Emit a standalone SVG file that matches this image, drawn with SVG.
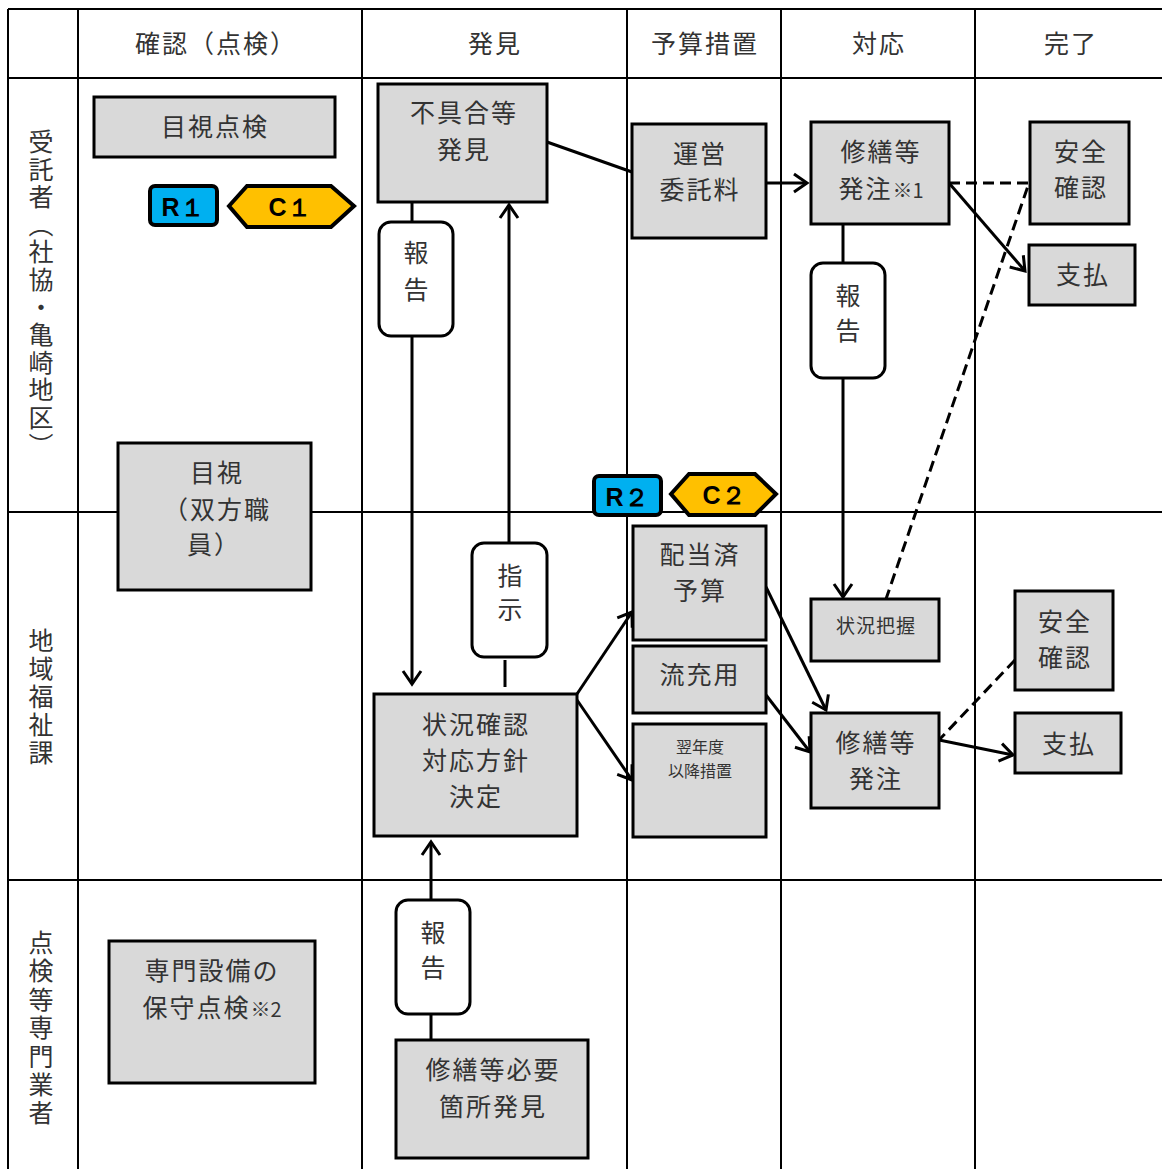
<svg xmlns="http://www.w3.org/2000/svg" width="1162" height="1169" viewBox="0 0 1162 1169">
<style>
.grid{stroke:#000;stroke-width:2;fill:none}
.box{fill:#d9d9d9;stroke:#000;stroke-width:3}
.pill{fill:#fff;stroke:#000;stroke-width:3}
.t{font-family:"Noto Sans CJK JP","Noto Sans CJK SC",sans-serif;font-size:25px;fill:#333;text-anchor:middle;letter-spacing:2px}
.s{font-size:19px}
.xs{font-size:16px}
.v{writing-mode:vertical-rl;text-anchor:start}
.c{stroke:#000;stroke-width:3;fill:none}
.d{stroke:#000;stroke-width:3;fill:none;stroke-dasharray:11 6}
.b{font-family:"Liberation Sans",Arial,sans-serif;font-weight:bold;font-size:25px;fill:#000;text-anchor:middle}
</style>
<defs>
<marker id="arr" markerWidth="20" markerHeight="24" refX="16" refY="12" orient="auto" markerUnits="userSpaceOnUse" viewBox="0 0 20 24">
<path d="M3,3 L16,12 L3,21" fill="none" stroke="#000" stroke-width="3"/>
</marker>
</defs>
<rect width="1162" height="1169" fill="#fff"/>
<g id="grid">
<line class="grid" x1="8" y1="9" x2="1162" y2="9"/>
<line class="grid" x1="8" y1="78" x2="1162" y2="78"/>
<line class="grid" x1="8" y1="512" x2="1162" y2="512"/>
<line class="grid" x1="8" y1="880" x2="1162" y2="880"/>
<line class="grid" x1="8" y1="9" x2="8" y2="1169"/>
<line class="grid" x1="78" y1="9" x2="78" y2="1169"/>
<line class="grid" x1="362" y1="9" x2="362" y2="1169"/>
<line class="grid" x1="627" y1="9" x2="627" y2="1169"/>
<line class="grid" x1="781" y1="9" x2="781" y2="1169"/>
<line class="grid" x1="975" y1="9" x2="975" y2="1169"/>
</g>
<g id="headers">
<text class="t" x="216" y="53">確認（点検）</text>
<text class="t" x="495" y="53">発見</text>
<text class="t" x="705" y="53">予算措置</text>
<text class="t" x="879" y="53">対応</text>
<text class="t" x="1071" y="53">完了</text>
<text class="t v" x="41" y="129" style="letter-spacing:2.6px">受託者（社協・亀崎地区）</text>
<text class="t v" x="41" y="628" style="letter-spacing:3px">地域福祉課</text>
<text class="t v" x="41" y="930" style="letter-spacing:3.4px">点検等専門業者</text>
</g>
<g id="connectors">
<line class="c" x1="412" y1="202" x2="412" y2="222"/>
<line class="c" x1="412" y1="336" x2="412" y2="684" marker-end="url(#arr)"/>
<line class="c" x1="505" y1="660" x2="505" y2="687"/>
<line class="c" x1="509" y1="543" x2="509" y2="205" marker-end="url(#arr)"/>
<line class="c" x1="547" y1="142" x2="632" y2="172"/>
<line class="c" x1="766" y1="183" x2="807" y2="183" marker-end="url(#arr)"/>
<line class="c" x1="843" y1="224" x2="843" y2="263"/>
<line class="c" x1="843" y1="378" x2="843" y2="597" marker-end="url(#arr)"/>
<polyline class="d" points="949,183 1029,183 886,599"/>
<line class="c" x1="949" y1="183" x2="1025" y2="271" marker-end="url(#arr)"/>
<line class="c" x1="577" y1="694" x2="632" y2="612" marker-end="url(#arr)"/>
<line class="c" x1="577" y1="700" x2="632" y2="780" marker-end="url(#arr)"/>
<line class="c" x1="766" y1="587" x2="826" y2="710" marker-end="url(#arr)"/>
<line class="c" x1="766" y1="695" x2="810" y2="752" marker-end="url(#arr)"/>
<line class="d" x1="1015" y1="660" x2="939" y2="740"/>
<line class="c" x1="939" y1="740" x2="1013" y2="755" marker-end="url(#arr)"/>
<line class="c" x1="431" y1="1040" x2="431" y2="1014"/>
<line class="c" x1="431" y1="900" x2="431" y2="842" marker-end="url(#arr)"/>
</g>
<g id="n-mokushi-tenken"><rect class="box" x="94" y="97" width="241" height="60"/><text class="t" x="215" y="136">目視点検</text></g>
<g id="n-r1"><rect x="150" y="186" width="67" height="39" rx="5" fill="#00b0f0" stroke="#000" stroke-width="4"/><text class="b" x="183" y="216">R１</text></g>
<g id="n-c1"><polygon points="229,206 247,186 331,186 354,206 331,227 247,227" fill="#ffc000" stroke="#000" stroke-width="4"/><text class="b" x="290" y="216">C１</text></g>
<g id="n-fuguai"><rect class="box" x="378" y="84" width="169" height="118"/><text class="t" x="464" y="122">不具合等</text><text class="t" x="464" y="159">発見</text></g>
<g id="n-hokoku1"><rect class="pill" x="379" y="222" width="74" height="114" rx="12"/><text class="t" x="417" y="262">報</text><text class="t" x="417" y="299">告</text></g>
<g id="n-unei"><rect class="box" x="632" y="124" width="134" height="114"/><text class="t" x="700" y="163">運営</text><text class="t" x="700" y="199">委託料</text></g>
<g id="n-hatchu1"><rect class="box" x="811" y="122" width="138" height="102"/><text class="t" x="881" y="161">修繕等</text><text class="t" x="881" y="198">発注<tspan style="font-size:20px;letter-spacing:0">※1</tspan></text></g>
<g id="n-hokoku2"><rect class="pill" x="811" y="263" width="74" height="115" rx="12"/><text class="t" x="849" y="305">報</text><text class="t" x="849" y="340">告</text></g>
<g id="n-anzen1"><rect class="box" x="1030" y="122" width="99" height="102"/><text class="t" x="1081" y="161">安全</text><text class="t" x="1081" y="197">確認</text></g>
<g id="n-shiharai1"><rect class="box" x="1029" y="245" width="106" height="60"/><text class="t" x="1083" y="284">支払</text></g>
<g id="n-mokushi-soho"><rect class="box" x="118" y="443" width="193" height="147"/><text class="t" x="217" y="482">目視</text><text class="t" x="163" y="519" style="text-anchor:start">（双方職</text><text class="t" x="187" y="554" style="text-anchor:start">員）</text></g>
<g id="n-r2"><rect x="594" y="476" width="67" height="39" rx="5" fill="#00b0f0" stroke="#000" stroke-width="4"/><text class="b" x="627" y="506">R２</text></g>
<g id="n-c2"><polygon points="671,494 689,474 755,474 776,494 755,515 689,515" fill="#ffc000" stroke="#000" stroke-width="4"/><text class="b" x="724" y="504">C２</text></g>
<g id="n-haito"><rect class="box" x="633" y="526" width="133" height="114"/><text class="t" x="700" y="564">配当済</text><text class="t" x="700" y="600">予算</text></g>
<g id="n-ryujuyo"><rect class="box" x="633" y="646" width="133" height="67"/><text class="t" x="700" y="684">流充用</text></g>
<g id="n-yokunendo"><rect class="box" x="633" y="724" width="133" height="113"/><text class="t xs" x="700" y="753" style="letter-spacing:0">翌年度</text><text class="t xs" x="700" y="777" style="letter-spacing:0">以降措置</text></g>
<g id="n-shiji"><rect class="pill" x="472" y="543" width="75" height="114" rx="12"/><text class="t" x="511" y="585">指</text><text class="t" x="511" y="619">示</text></g>
<g id="n-jokyo-kakunin"><rect class="box" x="374" y="694" width="203" height="142"/><text class="t" x="476" y="734">状況確認</text><text class="t" x="476" y="770">対応方針</text><text class="t" x="476" y="806">決定</text></g>
<g id="n-jokyo-haaku"><rect class="box" x="811" y="599" width="128" height="62"/><text class="t s" x="876" y="633" style="letter-spacing:1px">状況把握</text></g>
<g id="n-hatchu2"><rect class="box" x="811" y="713" width="128" height="95"/><text class="t" x="876" y="752">修繕等</text><text class="t" x="876" y="788">発注</text></g>
<g id="n-anzen2"><rect class="box" x="1015" y="591" width="98" height="99"/><text class="t" x="1065" y="631">安全</text><text class="t" x="1065" y="667">確認</text></g>
<g id="n-shiharai2"><rect class="box" x="1015" y="713" width="106" height="60"/><text class="t" x="1069" y="753">支払</text></g>
<g id="n-senmon"><rect class="box" x="109" y="941" width="206" height="142"/><text class="t" x="212" y="980">専門設備の</text><text class="t" x="212" y="1017">保守点検<tspan style="font-size:20px;letter-spacing:0">※2</tspan></text></g>
<g id="n-hokoku3"><rect class="pill" x="396" y="900" width="74" height="114" rx="12"/><text class="t" x="434" y="942">報</text><text class="t" x="434" y="977">告</text></g>
<g id="n-hitsuyo"><rect class="box" x="396" y="1040" width="192" height="118"/><text class="t" x="493" y="1079">修繕等必要</text><text class="t" x="493" y="1116">箇所発見</text></g>
</svg>
